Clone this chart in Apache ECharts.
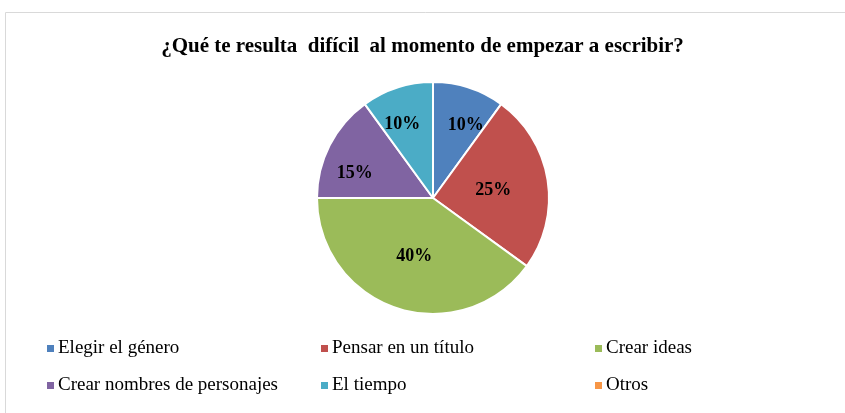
<!DOCTYPE html>
<html>
<head>
<meta charset="utf-8">
<script src="https://cdn.jsdelivr.net/npm/echarts@6/dist/echarts.min.js"></script>
<style>
    html, body { margin: 0; padding: 0; background: #fff; }
    #chart { width: 845px; height: 413px; }
</style>
</head>
<body>
<div id="chart"></div>
<script>
    // datos
    var categorias = ['Elegir el género', 'Pensar en un título', 'Crear ideas',
        'Crear nombres de personajes', 'El tiempo', 'Otros'];
    var porcentajes = [10, 25, 40, 15, 10, 0];
    var colores = ['#4F81BD', '#C0504D', '#9BBB59', '#8064A2', '#4BACC6', '#F79646'];
    // columnas de la leyenda
    var columna1 = ['Elegir el género', 'Crear nombres de personajes'];
    var columna2 = ['Pensar en un título', 'El tiempo'];
    var columna3 = ['Crear ideas', 'Otros'];

    // pequeños ajustes de posición de etiquetas (como en Excel)
    var ajustes = [[14, -15], [0, 2], [0, 0], [-24, 3], [-12, -16], [0, 0]];

    var fuente = '"Liberation Serif", "Times New Roman", serif';

    var datos = categorias.map(function (c, i) {
        var d = {
            name: c,
            value: porcentajes[i],
            itemStyle: { color: colores[i] },
            label: { offset: ajustes[i] }
        };
        if (porcentajes[i] === 0) {
            d.label = { show: false };
        }
        return d;
    });

    function leyenda(items, x) {
        return {
            orient: 'vertical',
            left: x,
            top: 339,
            icon: 'rect',
            itemWidth: 7,
            itemHeight: 7,
            itemGap: 18,
            padding: 0,
            selectedMode: false,
            itemStyle: { borderWidth: 0 },
            data: items,
            textStyle: {
                fontFamily: fuente,
                fontSize: 19,
                lineHeight: 18,
                color: '#000',
                padding: [0, 0, 0, -1]
            }
        };
    }

    var option = {
        animation: false,
        color: colores,
        title: {
            text: '¿Qué te resulta  difícil  al momento de empezar a escribir?',
            left: 'center',
            top: 31,
            textStyle: {
                fontFamily: fuente,
                fontSize: 21,
                fontWeight: 'bold',
                color: '#000'
            }
        },
        graphic: [{
            type: 'rect',
            shape: { x: 5.5, y: 12.5, width: 900, height: 500 },
            style: { fill: 'none', stroke: '#d9d9d9', lineWidth: 1 },
            silent: true
        }],
        legend: [
            leyenda(columna1, 47),
            leyenda(columna2, 321),
            leyenda(columna3, 595)
        ],
        series: [{
            type: 'pie',
            center: [433, 198],
            radius: 116,
            startAngle: 90,
            clockwise: true,
            avoidLabelOverlap: false,
            itemStyle: { borderColor: '#fff', borderWidth: 2 },
            label: {
                show: true,
                position: 'inside',
                formatter: '{c}%',
                fontFamily: fuente,
                fontSize: 18,
                fontWeight: 'bold',
                color: '#000'
            },
            labelLine: { show: false },
            emphasis: { disabled: true },
            data: datos
        }]
    };

    var myChart = echarts.init(document.getElementById('chart'));
    myChart.setOption(option);
</script>
</body>
</html>
